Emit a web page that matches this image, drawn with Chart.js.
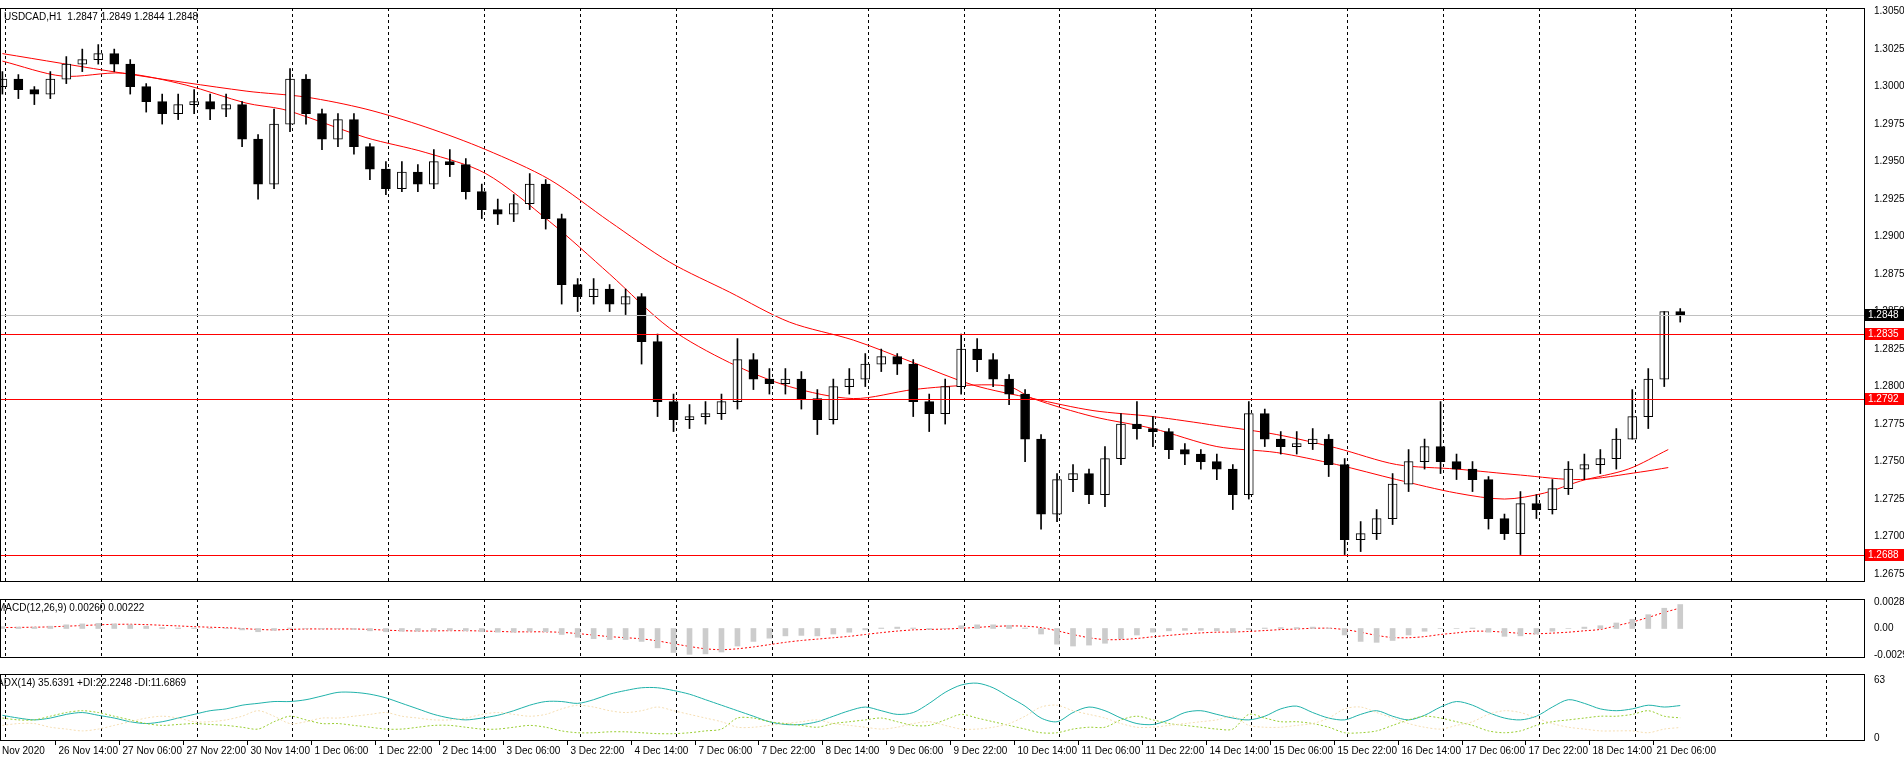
<!DOCTYPE html>
<html>
<head>
<meta charset="utf-8">
<script src="https://cdn.jsdelivr.net/npm/chart.js@4.4.0/dist/chart.umd.min.js"></script>
<style>
  body { margin: 0; background: #fff; width: 1904px; height: 760px; overflow: hidden; }
  canvas { position: absolute; left: 0; }
</style>
</head>
<body>
<canvas id="main" width="1904" height="590" style="top:0"></canvas>
<canvas id="macd" width="1904" height="75" style="top:591px"></canvas>
<canvas id="adx" width="1904" height="94" style="top:666px"></canvas>
<script>
// one candle every 4 hourly bars
const closes = [1.3005,1.2998,1.2995,1.3005,1.3015,1.3018,1.3022,1.3015,1.3000,1.2990,1.2982,1.2988,1.2990,1.2985,1.2988,1.2965,1.2935,1.2975,1.3005,1.2982,
  1.2965,1.2978,1.2960,1.2945,1.2932,1.2943,1.2935,1.2950,1.2948,1.2930,1.2918,1.2915,1.2922,1.2935,1.2912,1.2868,1.2860,1.2865,1.2855,1.2860,
  1.2830,1.2790,1.2778,1.2780,1.2782,1.2790,1.2818,1.2805,1.2802,1.2805,1.2792,1.2778,1.2800,1.2805,1.2815,1.2820,1.2815,1.2790,1.2782,1.2800,
  1.2825,1.2818,1.2805,1.2795,1.2765,1.2715,1.2738,1.2742,1.2728,1.2752,1.2775,1.2772,1.2770,1.2758,1.2755,1.2750,1.2745,1.2728,1.2782,1.2765,
  1.2760,1.2762,1.2765,1.2748,1.2698,1.2702,1.2712,1.2735,1.2750,1.2760,1.2750,1.2745,1.2738,1.2712,1.2702,1.2722,1.2718,1.2732,1.2745,1.2748,
  1.2752,1.2765,1.2780,1.2805,1.2850,1.2848];
const highs = [1.3010,1.3008,1.3000,1.3010,1.3020,1.3025,1.3028,1.3025,1.3018,1.3002,1.2995,1.2995,1.2998,1.2995,1.2995,1.2990,1.2968,1.2985,1.3012,1.3008,
  1.2985,1.2982,1.2982,1.2962,1.2950,1.2950,1.2948,1.2958,1.2958,1.2952,1.2935,1.2925,1.2928,1.2942,1.2938,1.2915,1.2872,1.2872,1.2868,1.2865,
  1.2862,1.2835,1.2795,1.2788,1.2790,1.2795,1.2832,1.2822,1.2812,1.2812,1.2810,1.2798,1.2805,1.2812,1.2822,1.2825,1.2822,1.2818,1.2795,1.2805,
  1.2835,1.2832,1.2822,1.2808,1.2798,1.2768,1.2742,1.2748,1.2745,1.2760,1.2782,1.2790,1.2780,1.2772,1.2762,1.2758,1.2755,1.2748,1.2790,1.2785,
  1.2770,1.2770,1.2772,1.2768,1.2752,1.2710,1.2718,1.2742,1.2758,1.2765,1.2790,1.2755,1.2750,1.2740,1.2715,1.2730,1.2728,1.2738,1.2750,1.2755,
  1.2758,1.2772,1.2798,1.2812,1.2850,1.2852];
const lows = [1.2995,1.2992,1.2988,1.2992,1.3002,1.3010,1.3015,1.3010,1.2995,1.2983,1.2975,1.2978,1.2982,1.2978,1.2980,1.2960,1.2925,1.2932,1.2970,1.2975,
  1.2958,1.2960,1.2955,1.2938,1.2928,1.2930,1.2930,1.2932,1.2940,1.2925,1.2912,1.2908,1.2910,1.2918,1.2905,1.2855,1.2850,1.2855,1.2850,1.2848,
  1.2815,1.2780,1.2770,1.2772,1.2775,1.2778,1.2785,1.2798,1.2795,1.2795,1.2785,1.2768,1.2775,1.2795,1.2800,1.2810,1.2808,1.2780,1.2770,1.2775,
  1.2795,1.2810,1.2800,1.2788,1.2750,1.2705,1.2710,1.2730,1.2722,1.2720,1.2748,1.2765,1.2760,1.2752,1.2748,1.2745,1.2738,1.2718,1.2725,1.2760,
  1.2755,1.2755,1.2758,1.2740,1.2688,1.2690,1.2698,1.2708,1.2730,1.2745,1.2742,1.2738,1.2730,1.2705,1.2698,1.2688,1.2712,1.2715,1.2728,1.2738,
  1.2742,1.2745,1.2765,1.2772,1.2800,1.2843];
const firstOpen = 1.3000;

// moving averages (hourly bar index, price)
const maSlowBars = [0,30,61,76,91,106,121,137,152,167,182,197,213,228,243,258,273,288,304,319,334,349,364,380,395,410,417];
const maSlow = [1.3022,1.3009,1.2997,1.2993,1.2985,1.2973,1.2958,1.2938,1.2910,1.2883,1.2863,1.2843,1.2831,1.2816,1.2801,1.2792,1.2784,1.2780,1.2774,1.2768,1.2759,1.2748,1.2745,1.2741,1.2738,1.2743,1.2746];
const maFastBars = [0,15,30,46,61,70,76,91,106,121,137,152,167,182,197,213,228,243,252,258,273,288,304,319,334,349,364,376,386,395,407,417];
const maFast = [1.3017,1.3007,1.3009,1.3001,1.2989,1.2985,1.2980,1.2966,1.2956,1.2942,1.2910,1.2875,1.2839,1.2816,1.2800,1.2792,1.2798,1.2801,1.2800,1.2792,1.2780,1.2772,1.2760,1.2756,1.2748,1.2738,1.2729,1.2725,1.2729,1.2737,1.2745,1.2758];

const levels = [1.2835, 1.2792, 1.2688];
const lastPrice = 1.2848;
const priceTicks = [1.3050,1.3025,1.3000,1.2975,1.2950,1.2925,1.2900,1.2875,1.2850,1.2825,1.2800,1.2775,1.2750,1.2725,1.2700,1.2675];

// MACD (x 1e-5)
const macdHist = [20,15,15,25,40,50,55,50,40,25,10,5,5,0,0,-15,-35,-20,5,0,-5,0,-10,-25,-35,-30,-30,-20,-20,-25,-35,
  -40,-40,-30,-35,-65,-95,-110,-120,-120,-140,-210,-260,-280,-275,-255,-190,-140,-105,-80,-75,-80,-60,-40,-15,5,15,5,-10,0,30,
  40,40,35,5,-60,-170,-190,-180,-160,-110,-70,-40,-25,-20,-20,-25,-40,-10,5,10,10,15,5,-70,-140,-150,-130,-70,-30,0,
  0,5,-40,-85,-80,-60,-30,0,15,30,60,100,150,220,260];
const macdSignal = [10,12,14,18,25,32,40,45,46,42,35,28,20,14,8,0,-10,-15,-10,-5,-5,-5,-5,-10,-18,-24,-27,-26,-24,-24,-27,
  -32,-36,-36,-36,-42,-55,-72,-88,-100,-112,-135,-165,-195,-220,-230,-220,-200,-175,-150,-130,-115,-100,-85,-65,-45,-28,-15,-10,-6,2,
  12,22,28,25,10,-25,-65,-100,-120,-120,-108,-90,-75,-60,-48,-40,-38,-32,-22,-12,-5,2,3,-12,-40,-75,-98,-100,-88,-65,
  -48,-30,-30,-40,-52,-57,-50,-40,-25,-10,30,70,120,175,222];

// ADX(14)
const adxMain = [25,22,20,22,26,28,25,22,18,16,18,22,26,30,32,36,38,40,40,42,46,50,50,48,44,38,32,26,22,20,22,
  25,30,36,40,40,38,42,48,52,55,55,52,48,42,36,30,24,18,15,15,18,24,30,34,30,26,28,38,50,58,
  60,55,45,35,22,18,28,34,30,22,16,15,20,28,30,26,22,20,24,32,35,28,22,20,26,30,24,20,25,34,
  40,36,28,22,20,24,34,42,38,32,30,32,36,34,35.6];
const plusDI = [22,20,20,24,28,30,28,24,20,16,14,15,16,15,14,12,10,18,24,20,16,16,14,12,10,10,12,14,14,12,10,
  10,12,14,12,8,6,6,7,7,6,5,5,6,8,10,22,22,18,16,14,12,16,18,20,22,18,14,14,20,26,
  22,18,14,10,6,6,10,12,12,20,24,20,16,14,12,10,10,26,22,18,18,16,12,6,6,8,14,20,24,22,
  18,14,8,6,8,14,18,20,22,24,24,26,30,24,22.2];
const minusDI = [14,16,16,12,10,8,10,14,18,22,24,22,18,18,20,24,30,24,16,18,22,22,24,26,28,24,22,20,20,22,26,
  28,26,24,26,32,36,34,30,28,30,34,30,26,22,18,12,12,14,16,18,20,16,14,12,10,12,16,18,14,10,
  10,12,16,24,34,36,30,26,22,16,12,12,14,16,18,20,24,14,12,12,14,16,22,32,34,28,22,16,12,10,
  14,18,26,30,28,22,16,12,10,8,8,8,6,10,11.7];

const timeLabels = ['26 Nov 14:00','27 Nov 06:00','27 Nov 22:00','30 Nov 14:00','1 Dec 06:00','1 Dec 22:00','2 Dec 14:00',
  '3 Dec 06:00','3 Dec 22:00','4 Dec 14:00','7 Dec 06:00','7 Dec 22:00','8 Dec 14:00','9 Dec 06:00','9 Dec 22:00',
  '10 Dec 14:00','11 Dec 06:00','11 Dec 22:00','14 Dec 14:00','15 Dec 06:00','15 Dec 22:00','16 Dec 14:00',
  '17 Dec 06:00','17 Dec 22:00','18 Dec 14:00','21 Dec 06:00'];

const FAMILY = '"Liberation Sans", Arial, sans-serif';
const FONT = '10px ' + FAMILY;
const X_MIN = -0.6, X_MAX = 466;
const barX = k => k * 4;

Chart.defaults.font.family = FAMILY;
Chart.defaults.font.size = 10;
Chart.defaults.color = '#000';

function xScale() {
  return { type: 'linear', min: X_MIN, max: X_MAX, offset: false, display: false };
}
function yScale(min, max, ticks, fmt) {
  return {
    type: 'linear', position: 'right', min, max,
    grid: { display: false },
    border: { display: false },
    afterBuildTicks: s => { s.ticks = ticks.map(v => ({ value: v })); },
    afterFit: s => { s.width = 40; },
    ticks: { autoSkip: false, padding: 2, font: { size: 10 }, callback: fmt }
  };
}

// frame, daily dashed separators and panel captions
const framePlugin = {
  id: 'frame',
  beforeDatasetsDraw(chart) {
    const { ctx, chartArea: a, scales: { x } } = chart;
    ctx.save();
    ctx.strokeStyle = '#000';
    ctx.lineWidth = 1;
    ctx.setLineDash([3, 3]);
    for (let b = 0.6; b < X_MAX; b += 24) {
      const px = Math.round(x.getPixelForValue(b)) + 0.5;
      ctx.beginPath(); ctx.moveTo(px, a.top); ctx.lineTo(px, a.bottom); ctx.stroke();
    }
    ctx.restore();
  },
  afterDraw(chart, args, opts) {
    const { ctx, chartArea: a } = chart;
    ctx.save();
    ctx.strokeStyle = '#000';
    ctx.lineWidth = 1;
    ctx.strokeRect(0.5, a.top + 0.5, a.right, a.bottom - a.top - 1);
    ctx.fillStyle = '#000';
    ctx.font = FONT;
    ctx.textBaseline = 'top';
    ctx.fillText(opts.caption, opts.captionX, a.top + 4);
    ctx.restore();
  }
};

const levelPlugin = {
  id: 'levels',
  afterDatasetsDraw(chart) {
    const { ctx, chartArea: a, scales: { y } } = chart;
    const rows = [[lastPrice, '#c0c0c0', '#000']].concat(levels.map(v => [v, '#ff0000', '#ff0000']));
    ctx.save();
    rows.forEach(([v, line, box]) => {
      const py = Math.round(y.getPixelForValue(v)) + 0.5;
      ctx.strokeStyle = line;
      ctx.lineWidth = 1;
      ctx.beginPath(); ctx.moveTo(a.left, py); ctx.lineTo(a.right, py); ctx.stroke();
      ctx.fillStyle = box;
      ctx.fillRect(a.right + 1, py - 6.5, 39, 12);
      ctx.fillStyle = '#fff';
      ctx.font = FONT;
      ctx.textBaseline = 'middle';
      ctx.fillText(v.toFixed(4), a.right + 4, py);
    });
    ctx.restore();
  }
};

const timePlugin = {
  id: 'times',
  afterDraw(chart) {
    const { ctx, chartArea: a, scales: { x } } = chart;
    ctx.save();
    ctx.font = FONT;
    ctx.fillStyle = '#000';
    ctx.strokeStyle = '#000';
    ctx.textBaseline = 'top';
    ctx.fillText('Nov 2020', 2, a.bottom + 5);
    timeLabels.forEach((t, i) => {
      const px = Math.round(x.getPixelForValue(13.25 + 16 * i)) + 0.5;
      ctx.beginPath(); ctx.moveTo(px, a.bottom); ctx.lineTo(px, a.bottom + 4); ctx.stroke();
      ctx.fillText(t, px + 3, a.bottom + 5);
    });
    ctx.restore();
  }
};

const opens = closes.map((c, k) => (k ? closes[k - 1] : firstOpen));
const bull = closes.map((c, k) => c >= opens[k]);

new Chart(document.getElementById('main'), {
  data: {
    datasets: [
      { type: 'bar', grouped: false, barThickness: 1, backgroundColor: '#000',
        data: closes.map((c, k) => ({ x: barX(k), y: [lows[k], highs[k]] })) },
      { type: 'bar', grouped: false, barThickness: 9, borderSkipped: false, borderWidth: 1, borderColor: '#000',
        backgroundColor: bull.map(b => (b ? '#fff' : '#000')),
        data: closes.map((c, k) => ({ x: barX(k), y: [opens[k], c] })) },
      { type: 'line', borderColor: '#ff0000', borderWidth: 1, pointRadius: 0, tension: 0.3,
        data: maSlow.map((v, i) => ({ x: maSlowBars[i], y: v })) },
      { type: 'line', borderColor: '#ff0000', borderWidth: 1, pointRadius: 0, tension: 0.3,
        data: maFast.map((v, i) => ({ x: maFastBars[i], y: v })) }
    ]
  },
  options: {
    responsive: false, animation: false, devicePixelRatio: 1,
    layout: { padding: 0 },
    plugins: { legend: { display: false }, tooltip: { enabled: false },
      frame: { caption: 'USDCAD,H1  1.2847 1.2849 1.2844 1.2848', captionX: 4 } },
    scales: { x: xScale(), y: yScale(1.26697, 1.30524, priceTicks, v => v.toFixed(4)) }
  },
  plugins: [framePlugin, levelPlugin]
});

new Chart(document.getElementById('macd'), {
  data: {
    datasets: [
      { type: 'bar', grouped: false, barThickness: 5, backgroundColor: '#cccccc',
        data: macdHist.map((v, k) => ({ x: barX(k), y: v / 1e5 })) },
      { type: 'line', borderColor: '#ff0000', borderWidth: 1, borderDash: [2, 2], pointRadius: 0, tension: 0.3,
        data: macdSignal.map((v, k) => ({ x: barX(k), y: v / 1e5 })) }
    ]
  },
  options: {
    responsive: false, animation: false, devicePixelRatio: 1,
    layout: { padding: 0 },
    plugins: { legend: { display: false }, tooltip: { enabled: false },
      frame: { caption: 'MACD(12,26,9) 0.00260 0.00222', captionX: -3 } },
    scales: { x: xScale(),
      y: yScale(-0.0032, 0.0032, [0.00286, 0, -0.00295], v => (v === 0 ? '0.00' : v.toFixed(5))) }
  },
  plugins: [framePlugin]
});

new Chart(document.getElementById('adx'), {
  data: {
    datasets: [
      { type: 'line', borderColor: '#f5deb3', borderWidth: 1, borderDash: [2, 2], pointRadius: 0, tension: 0.3,
        data: minusDI.map((v, k) => ({ x: barX(k), y: v })) },
      { type: 'line', borderColor: '#9acd32', borderWidth: 1, borderDash: [2, 2], pointRadius: 0, tension: 0.3,
        data: plusDI.map((v, k) => ({ x: barX(k), y: v })) },
      { type: 'line', borderColor: '#20b2aa', borderWidth: 1, pointRadius: 0, tension: 0.3,
        data: adxMain.map((v, k) => ({ x: barX(k), y: v })) }
    ]
  },
  options: {
    responsive: false, animation: false, devicePixelRatio: 1,
    layout: { padding: { bottom: 19 } },
    plugins: { legend: { display: false }, tooltip: { enabled: false },
      frame: { caption: 'ADX(14) 35.6391 +DI:22.2248 -DI:11.6869', captionX: -3 } },
    scales: { x: xScale(), y: yScale(-3, 70, [63, 0], v => String(v)) }
  },
  plugins: [framePlugin, timePlugin]
});
</script>
</body>
</html>
